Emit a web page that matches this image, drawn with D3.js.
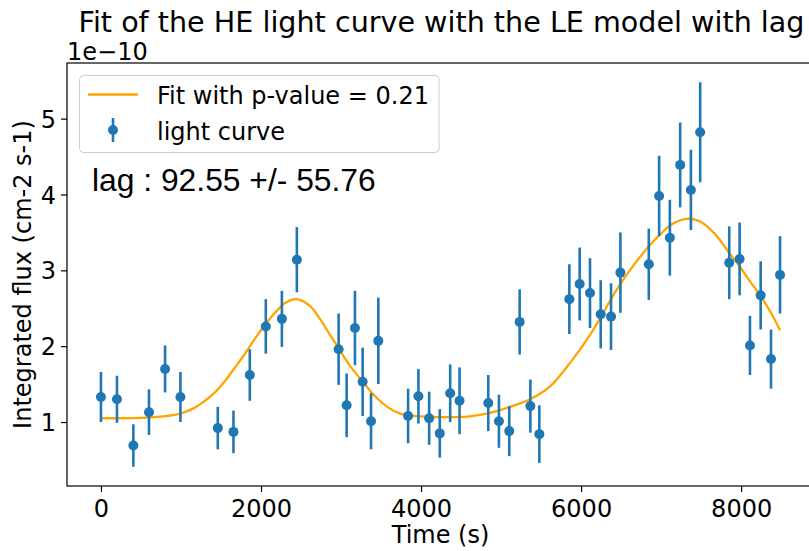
<!DOCTYPE html>
<html>
<head>
<meta charset="utf-8">
<script src="https://cdn.jsdelivr.net/npm/d3@7"></script>
<style>
  html, body { margin: 0; padding: 0; background: #ffffff; }
  svg { display: block; }
  text { fill: #000; }
</style>
</head>
<body>
<svg id="chart" width="809" height="551"></svg>
<script>
// Light curve: observation times (s), flux (units of 1e-10 cm-2 s-1) and 1-sigma errors
const times = [0, 200, 405, 600, 801, 993, 1460, 1656, 1860, 2060, 2261, 2448,
  2970, 3070, 3174, 3270, 3375, 3466, 3838, 3967, 4101, 4234, 4364, 4481,
  4840, 4973, 5102, 5232, 5366, 5478, 5853, 5982, 6111, 6245, 6374, 6491,
  6846, 6975, 7109, 7238, 7372, 7488, 7851, 7981, 8110, 8244, 8373, 8486];
const flux = [1.33, 1.30, 0.69, 1.13, 1.70, 1.33, 0.92, 0.87, 1.62, 2.26, 2.36, 3.14,
  1.96, 1.22, 2.24, 1.53, 1.01, 2.07, 1.08, 1.34, 1.05, 0.85, 1.38, 1.28,
  1.25, 1.01, 0.88, 2.32, 1.21, 0.84, 2.62, 2.82, 2.70, 2.42, 2.39, 2.97,
  3.08, 3.98, 3.43, 4.39, 4.06, 4.82, 3.10, 3.15, 2.01, 2.67, 1.83, 2.94];
const fluxErr = [0.33, 0.31, 0.28, 0.30, 0.31, 0.33, 0.28, 0.28, 0.34, 0.36, 0.37, 0.43,
  0.47, 0.42, 0.49, 0.45, 0.37, 0.57, 0.36, 0.36, 0.35, 0.32, 0.38, 0.44,
  0.37, 0.35, 0.33, 0.43, 0.35, 0.38, 0.46, 0.48, 0.46, 0.45, 0.44, 0.53,
  0.47, 0.53, 0.50, 0.56, 0.53, 0.66, 0.48, 0.48, 0.39, 0.45, 0.39, 0.51];

// LE model (with lag) sampled along the HE time range
const fitTimes = [0, 250, 500, 750, 1000, 1175, 1300, 1425, 1550, 1675, 1800, 1925,
  2050, 2175, 2300, 2425, 2487, 2612, 2737, 2862, 2966, 3112, 3266, 3425,
  3591, 3737, 3904, 4154, 4400, 4612, 4862, 5112, 5362, 5612, 5862, 6112,
  6237, 6374, 6491, 6662, 6846, 6975, 7109, 7238, 7340, 7488, 7663, 7851,
  7981, 8110, 8244, 8373, 8486];
const fitFlux = [1.05, 1.05, 1.055, 1.07, 1.115, 1.19, 1.28, 1.39, 1.54, 1.72, 1.90, 2.10,
  2.28, 2.44, 2.57, 2.62, 2.61, 2.53, 2.36, 2.15, 1.98, 1.74, 1.54, 1.34,
  1.19, 1.11, 1.08, 1.066, 1.065, 1.075, 1.12, 1.20, 1.30, 1.47, 1.78, 2.15,
  2.37, 2.62, 2.82, 3.075, 3.316, 3.46, 3.59, 3.66, 3.68, 3.645, 3.49, 3.23,
  3.05, 2.855, 2.66, 2.44, 2.21];

const xTicks = [0, 2000, 4000, 6000, 8000];
const yTicks = [1, 2, 3, 4, 5];
const yExponent = "1e\u221210";

const titleText = "Fit of the HE light curve with the LE model with lag";
const xLabel = "Time (s)";
const yLabel = "Integrated flux (cm-2 s-1)";
const fitLabel = "Fit with p-value = 0.21";
const dataLabel = "light curve";
const lagText = "lag : 92.55 +/- 55.76";

const BLUE = "#1f77b4";
const ORANGE = "#ffa500";
const MAIN_FONT = '"DejaVu Sans", sans-serif';
const LAG_FONT = '"Liberation Sans", Arial, sans-serif';

const svg = d3.select("#chart");
const plot = { left: 67, right: 814, top: 63, bottom: 486 };

// Auto-margins of 5% around the data extent
const tMin = d3.min(times), tMax = d3.max(times);
const tPad = (tMax - tMin) * 0.05;
const lo = d3.min(flux.map((v, i) => v - fluxErr[i]));
const hi = d3.max(flux.map((v, i) => v + fluxErr[i]));
const fPad = (hi - lo) * 0.05;

const x = d3.scaleLinear().domain([tMin - tPad, tMax + tPad]).range([plot.left, plot.right]);
const y = d3.scaleLinear().domain([lo - fPad, hi + fPad]).range([plot.bottom, plot.top]);

const FS = 24;

// Axes
const xAxis = svg.append("g")
  .attr("transform", `translate(0,${plot.bottom})`)
  .call(d3.axisBottom(x).tickValues(xTicks).tickFormat(d3.format("d")).tickSizeOuter(0).tickSize(6).tickPadding(5));
const yAxis = svg.append("g")
  .attr("transform", `translate(${plot.left},0)`)
  .call(d3.axisLeft(y).tickValues(yTicks).tickFormat(d3.format("d")).tickSizeOuter(0).tickSize(6).tickPadding(5));
[xAxis, yAxis].forEach(a => {
  a.select(".domain").remove();
  a.selectAll(".tick line").attr("stroke", "#000").attr("stroke-width", 1.2);
  a.selectAll(".tick text").style("font-family", MAIN_FONT).style("font-size", FS + "px").attr("fill", "#000");
});
xAxis.selectAll(".tick text").attr("dy", null).attr("y", 31);
yAxis.selectAll(".tick text").attr("dy", "0.36em");

// Frame
svg.append("rect")
  .attr("x", plot.left).attr("y", plot.top)
  .attr("width", plot.right - plot.left).attr("height", plot.bottom - plot.top)
  .attr("fill", "none").attr("stroke", "#000").attr("stroke-width", 1.2);

// Clip to the axes area
svg.append("clipPath").attr("id", "clip")
  .append("rect").attr("x", plot.left).attr("y", plot.top)
  .attr("width", plot.right - plot.left).attr("height", plot.bottom - plot.top);
const g = svg.append("g").attr("clip-path", "url(#clip)");

// Fit curve
const fitData = fitTimes.map((t, i) => [t, fitFlux[i]]);
g.append("path")
  .datum(fitData)
  .attr("fill", "none")
  .attr("stroke", ORANGE)
  .attr("stroke-width", 2.3)
  .attr("d", d3.line().x(d => x(d[0])).y(d => y(d[1])).curve(d3.curveCatmullRom.alpha(0.5)));

// Error bars and points
const pts = times.map((t, i) => ({ t, f: flux[i], e: fluxErr[i] }));
g.selectAll("line.err").data(pts).join("line")
  .attr("class", "err")
  .attr("x1", d => x(d.t)).attr("x2", d => x(d.t))
  .attr("y1", d => y(d.f - d.e)).attr("y2", d => y(d.f + d.e))
  .attr("stroke", BLUE).attr("stroke-width", 2.6);
g.selectAll("circle.pt").data(pts).join("circle")
  .attr("class", "pt")
  .attr("cx", d => x(d.t)).attr("cy", d => y(d.f))
  .attr("r", 5).attr("fill", BLUE);

// Title, labels, exponent
function label(sel, size, font) {
  return sel.style("font-family", font || MAIN_FONT).style("font-size", size + "px");
}
label(svg.append("text").attr("x", (plot.left + plot.right) / 2 + 1).attr("y", 32)
  .attr("text-anchor", "middle"), 28.6).text(titleText);
label(svg.append("text").attr("x", plot.left).attr("y", 60), FS).text(yExponent);
label(svg.append("text").attr("x", (plot.left + plot.right) / 2).attr("y", 543)
  .attr("text-anchor", "middle"), FS).text(xLabel);
label(svg.append("text")
  .attr("transform", `translate(31,${(plot.top + plot.bottom) / 2}) rotate(-90)`)
  .attr("text-anchor", "middle"), FS).text(yLabel);

// Legend
const leg = svg.append("g");
leg.append("rect").attr("x", 79.5).attr("y", 75.5).attr("width", 359.5).attr("height", 77)
  .attr("rx", 4).attr("fill", "#fff").attr("fill-opacity", 0.8)
  .attr("stroke", "#cccccc").attr("stroke-width", 1);
leg.append("line").attr("x1", 88).attr("x2", 138).attr("y1", 94.5).attr("y2", 94.5)
  .attr("stroke", ORANGE).attr("stroke-width", 2.3);
label(leg.append("text").attr("x", 157).attr("y", 104), FS).text(fitLabel);
leg.append("line").attr("x1", 113).attr("x2", 113).attr("y1", 118).attr("y2", 142)
  .attr("stroke", BLUE).attr("stroke-width", 2.6);
leg.append("circle").attr("cx", 113).attr("cy", 130).attr("r", 5).attr("fill", BLUE);
label(leg.append("text").attr("x", 157).attr("y", 139.5), FS).text(dataLabel);

// Lag annotation
label(svg.append("text").attr("x", 92).attr("y", 190.5), 31.8, LAG_FONT).text(lagText);
</script>
</body>
</html>
